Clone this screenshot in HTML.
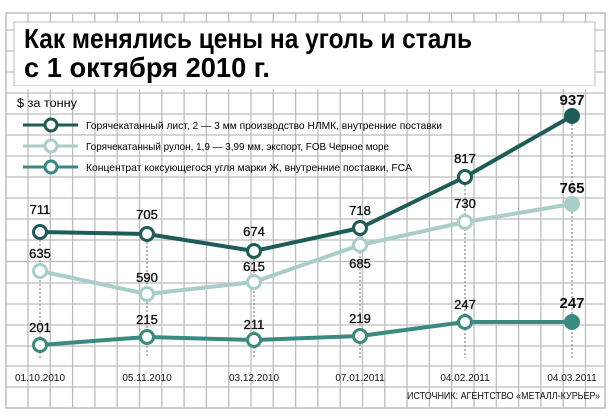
<!DOCTYPE html>
<html><head><meta charset="utf-8"><style>html,body{margin:0;padding:0;background:#fff}svg{display:block}</style></head>
<body>
<svg width="615" height="418" viewBox="0 0 615 418" xmlns="http://www.w3.org/2000/svg" font-family="'Liberation Sans','DejaVu Sans',sans-serif">
<rect width="615" height="418" fill="#fff"/>
<g stroke="#bdbdbd" stroke-width="1.3">
<line x1="28" y1="13" x2="28" y2="408"/><line x1="50.3" y1="13" x2="50.3" y2="408"/><line x1="72.6" y1="13" x2="72.6" y2="408"/><line x1="94.9" y1="13" x2="94.9" y2="408"/><line x1="117.2" y1="13" x2="117.2" y2="408"/><line x1="139.5" y1="13" x2="139.5" y2="408"/><line x1="161.8" y1="13" x2="161.8" y2="408"/><line x1="184.1" y1="13" x2="184.1" y2="408"/><line x1="206.4" y1="13" x2="206.4" y2="408"/><line x1="228.7" y1="13" x2="228.7" y2="408"/><line x1="251" y1="13" x2="251" y2="408"/><line x1="273.3" y1="13" x2="273.3" y2="408"/><line x1="295.6" y1="13" x2="295.6" y2="408"/><line x1="317.9" y1="13" x2="317.9" y2="408"/><line x1="340.2" y1="13" x2="340.2" y2="408"/><line x1="362.5" y1="13" x2="362.5" y2="408"/><line x1="384.8" y1="13" x2="384.8" y2="408"/><line x1="407.1" y1="13" x2="407.1" y2="408"/><line x1="429.4" y1="13" x2="429.4" y2="408"/><line x1="451.7" y1="13" x2="451.7" y2="408"/><line x1="474" y1="13" x2="474" y2="408"/><line x1="496.3" y1="13" x2="496.3" y2="408"/><line x1="518.6" y1="13" x2="518.6" y2="408"/><line x1="540.9" y1="13" x2="540.9" y2="408"/><line x1="563.2" y1="13" x2="563.2" y2="408"/><line x1="585.5" y1="13" x2="585.5" y2="408"/>
<line x1="6" y1="30" x2="605" y2="30"/><line x1="6" y1="51" x2="605" y2="51"/><line x1="6" y1="72" x2="605" y2="72"/><line x1="6" y1="93" x2="605" y2="93"/><line x1="6" y1="114" x2="605" y2="114"/><line x1="6" y1="135" x2="605" y2="135"/><line x1="6" y1="156" x2="605" y2="156"/><line x1="6" y1="177" x2="605" y2="177"/><line x1="6" y1="198" x2="605" y2="198"/><line x1="6" y1="219" x2="605" y2="219"/><line x1="6" y1="240" x2="605" y2="240"/><line x1="6" y1="261.5" x2="605" y2="261.5"/><line x1="6" y1="283" x2="605" y2="283"/><line x1="6" y1="304" x2="605" y2="304"/><line x1="6" y1="325" x2="605" y2="325"/><line x1="6" y1="346" x2="605" y2="346"/><line x1="6" y1="366" x2="605" y2="366"/><line x1="6" y1="387" x2="605" y2="387"/>
</g>
<rect x="6" y="13" width="599" height="395" fill="none" stroke="#bdbdbd" stroke-width="1.5"/>
<rect x="14" y="22" width="581" height="64" fill="#fff" stroke="#bdbdbd" stroke-width="1"/>
<rect x="14" y="86" width="582" height="3" fill="#fff"/>
<text x="24" y="48" font-size="28" font-weight="bold" textLength="448" lengthAdjust="spacingAndGlyphs">Как менялись цены на уголь и сталь</text>
<text x="24" y="77" font-size="28" font-weight="bold" textLength="246" lengthAdjust="spacingAndGlyphs">с 1 октября 2010 г.</text>
<text x="17" y="107" font-size="11.5" textLength="60" lengthAdjust="spacingAndGlyphs">$ за тонну</text>
<g stroke-width="3">
<line x1="23" y1="125" x2="78" y2="125" stroke="#1d5c57"/><circle cx="51" cy="125" r="6" fill="#fff" stroke="#1d5c57"/>
<line x1="23" y1="146" x2="78" y2="146" stroke="#a9cdc8"/><circle cx="51" cy="146" r="6" fill="#fff" stroke="#a9cdc8"/>
<line x1="23" y1="167" x2="78" y2="167" stroke="#3a8a80"/><circle cx="51" cy="167" r="6" fill="#fff" stroke="#3a8a80"/>
</g>
<g font-size="10.5">
<text x="86" y="129" textLength="356" lengthAdjust="spacingAndGlyphs">Горячекатанный лист, 2 — 3 мм производство НЛМК, внутренние поставки</text>
<text x="86" y="150" textLength="303" lengthAdjust="spacingAndGlyphs">Горячекатанный рулон, 1,9 — 3,99 мм, экспорт, FOB Черное море</text>
<text x="86" y="171" textLength="326" lengthAdjust="spacingAndGlyphs">Концентрат коксующегося угля марки Ж, внутренние поставки, FCA</text>
</g>
<g stroke="#888" stroke-width="1.2" stroke-dasharray="2,2">
<line x1="40" y1="232" x2="40" y2="358"/><line x1="147" y1="234" x2="147" y2="358"/><line x1="254" y1="251" x2="254" y2="358"/><line x1="360" y1="228" x2="360" y2="358"/><line x1="465" y1="177" x2="465" y2="358"/><line x1="572" y1="116" x2="572" y2="358"/>
</g>
<g fill="none" stroke-width="4" stroke-linejoin="round">
<polyline points="40,345 147,337 254,340 360,336 465,322 572,322" stroke="#3a8a80"/>
<polyline points="40,271 147,294 254,282 360,245 465,222 572,204" stroke="#a9cdc8"/>
<polyline points="40,232 147,234 254,251 360,228 465,177 572,116" stroke="#1d5c57"/>
</g>
<g fill="#fff" stroke-width="3">
<g stroke="#3a8a80"><circle cx="40" cy="345" r="6.5"/><circle cx="147" cy="337" r="6.5"/><circle cx="254" cy="340" r="6.5"/><circle cx="360" cy="336" r="6.5"/><circle cx="465" cy="322" r="6.5"/></g>
<g stroke="#a9cdc8"><circle cx="40" cy="271" r="6.5"/><circle cx="147" cy="294" r="6.5"/><circle cx="254" cy="282" r="6.5"/><circle cx="360" cy="245" r="6.5"/><circle cx="465" cy="222" r="6.5"/></g>
<g stroke="#1d5c57"><circle cx="40" cy="232" r="6.5"/><circle cx="147" cy="234" r="6.5"/><circle cx="254" cy="251" r="6.5"/><circle cx="360" cy="228" r="6.5"/><circle cx="465" cy="177" r="6.5"/></g>
</g>
<circle cx="572" cy="322" r="8" fill="#3a8a80"/>
<circle cx="572" cy="204" r="8" fill="#a9cdc8"/>
<circle cx="572" cy="116" r="8" fill="#1d5c57"/>
<g font-size="13" text-anchor="middle" fill="#111" stroke="#111" stroke-width="0.35">
<text x="40" y="214">711</text><text x="147" y="219">705</text><text x="254" y="236">674</text><text x="360" y="215">718</text><text x="465" y="163">817</text>
<text x="40" y="258">635</text><text x="147" y="282">590</text><text x="254" y="271">615</text><text x="360" y="268">685</text><text x="465" y="208">730</text>
<text x="40" y="332">201</text><text x="147" y="324">215</text><text x="254" y="329">211</text><text x="360" y="323">219</text><text x="465" y="309">247</text>
</g>
<g font-size="15" font-weight="bold" text-anchor="middle" fill="#111">
<text x="572" y="105">937</text><text x="572" y="193">765</text><text x="572" y="308">247</text>
</g>
<g font-size="10" text-anchor="middle" fill="#111">
<text x="40" y="381">01.10.2010</text><text x="147" y="381">05.11.2010</text><text x="254" y="381">03.12.2010</text><text x="360" y="381">07.01.2011</text><text x="465" y="381">04.02.2011</text><text x="572" y="381">04.03.2011</text>
</g>
<text x="600" y="399" font-size="10" text-anchor="end" fill="#111" textLength="193" lengthAdjust="spacingAndGlyphs">ИСТОЧНИК: АГЕНТСТВО «МЕТАЛЛ-КУРЬЕР»</text>
</svg>
</body></html>
